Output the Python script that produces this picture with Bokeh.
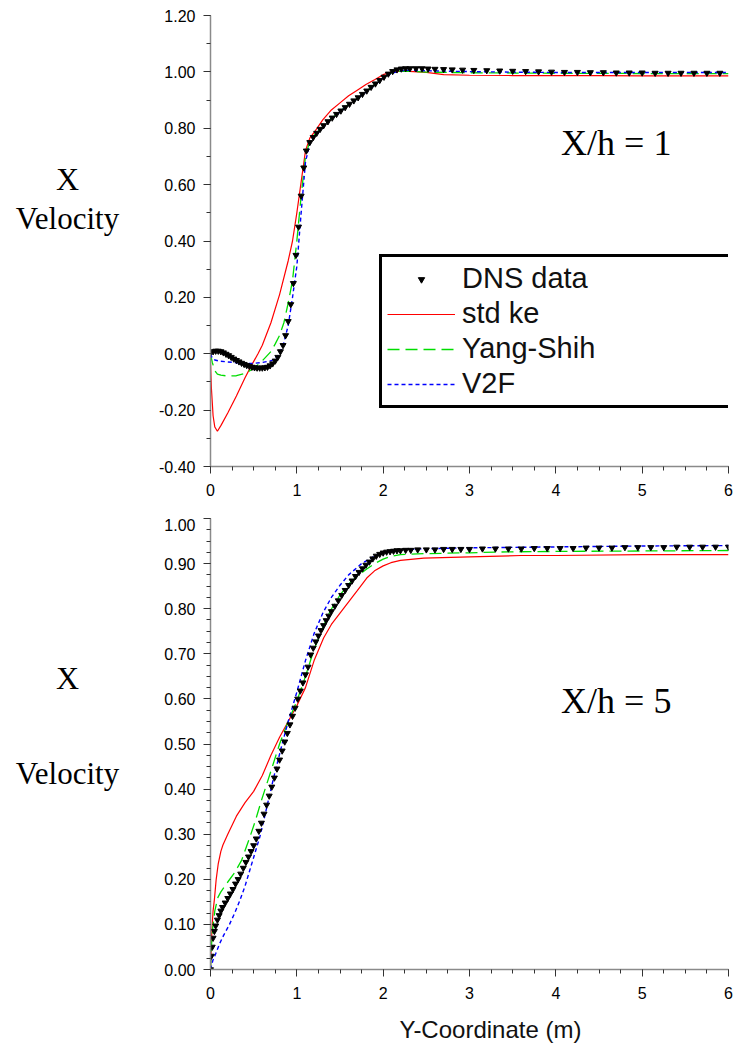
from bokeh.plotting import figure
from bokeh.models import (Range1d, FixedTicker, PrintfTickFormatter, Legend,
                          LegendItem, Label)
from bokeh.layouts import column, row
from bokeh.embed import file_html
from bokeh.resources import INLINE

# ---------------- data : X/h = 1 ----------------
dns1_x = [0.00, 0.03, 0.06, 0.09, 0.12, 0.15, 0.18, 0.21, 0.24, 0.27, 0.30, 0.33, 0.36, 0.39,
          0.42, 0.45, 0.48, 0.51, 0.54, 0.57, 0.60, 0.63, 0.66, 0.69, 0.72, 0.75, 0.78, 0.81,
          0.84, 0.87, 0.90, 0.93, 0.96, 0.99, 1.02, 1.05, 1.08, 1.11, 1.15, 1.19, 1.23, 1.27,
          1.31, 1.36, 1.41, 1.46, 1.51, 1.56, 1.61, 1.66, 1.71, 1.76, 1.81, 1.86, 1.91, 1.96,
          2.01, 2.06, 2.11, 2.16, 2.21, 2.26, 2.31, 2.38, 2.45, 2.52, 2.60, 2.70, 2.80, 2.92,
          3.05, 3.20, 3.35, 3.50, 3.65, 3.80, 3.95, 4.10, 4.25, 4.40, 4.55, 4.70, 4.85, 5.00,
          5.15, 5.30, 5.45, 5.60, 5.75, 5.90]
dns1_y = [0.005, 0.008, 0.010, 0.010, 0.008, 0.004, -0.001, -0.006, -0.012, -0.018, -0.023,
          -0.028, -0.033, -0.037, -0.041, -0.044, -0.047, -0.049, -0.050, -0.050, -0.050,
          -0.049, -0.047, -0.042, -0.035, -0.025, -0.012, 0.008, 0.030, 0.065, 0.115, 0.175,
          0.250, 0.350, 0.450, 0.560, 0.660, 0.720, 0.750, 0.768, 0.783, 0.797, 0.810, 0.824,
          0.837, 0.850, 0.862, 0.874, 0.886, 0.898, 0.909, 0.921, 0.933, 0.946, 0.958, 0.970,
          0.982, 0.993, 1.002, 1.008, 1.011, 1.012, 1.012, 1.012, 1.012, 1.011, 1.010, 1.009,
          1.008, 1.007, 1.006, 1.005, 1.004, 1.003, 1.002, 1.001, 1.000, 0.999, 0.999, 0.998,
          0.998, 0.997, 0.997, 0.997, 0.996, 0.996, 0.996, 0.996, 0.996, 0.996]

ke1_x = [0.00, 0.01, 0.03, 0.05, 0.08, 0.12, 0.20, 0.30, 0.40, 0.47, 0.55, 0.60, 0.70, 0.80,
         0.90, 0.95, 1.00, 1.05, 1.10, 1.15, 1.20, 1.30, 1.40, 1.50, 1.60, 1.70, 1.80, 1.90,
         2.00, 2.10, 2.20, 2.30, 2.50, 2.70, 3.00, 3.50, 4.00, 4.50, 5.00, 5.50, 6.00]
ke1_y = [-0.03, -0.12, -0.22, -0.26, -0.275, -0.255, -0.21, -0.15, -0.085, -0.044, 0.0, 0.03,
         0.11, 0.21, 0.33, 0.40, 0.50, 0.61, 0.72, 0.765, 0.785, 0.83, 0.865, 0.89, 0.915,
         0.935, 0.955, 0.972, 0.99, 1.0, 1.003, 1.002, 0.998, 0.99, 0.988, 0.987, 0.987,
         0.987, 0.986, 0.986, 0.986]

ys1_x = [0.00, 0.02, 0.05, 0.08, 0.12, 0.20, 0.30, 0.40, 0.50, 0.60, 0.70, 0.75, 0.80, 0.85,
         0.90, 0.95, 1.00, 1.05, 1.10, 1.15, 1.20, 1.30, 1.40, 1.50, 1.60, 1.70, 1.80, 1.90,
         2.00, 2.10, 2.20, 2.30, 2.50, 3.00, 3.50, 4.00, 4.50, 5.00, 5.50, 6.00]
ys1_y = [0.0, -0.03, -0.06, -0.072, -0.076, -0.079, -0.078, -0.07, -0.052, -0.025, 0.008,
         0.035, 0.065, 0.11, 0.18, 0.26, 0.40, 0.56, 0.70, 0.755, 0.775, 0.805, 0.835, 0.86,
         0.885, 0.905, 0.93, 0.955, 0.98, 0.997, 1.003, 1.002, 0.999, 0.997, 0.996, 0.995,
         0.995, 0.994, 0.994, 0.994]

v2f1_x = [0.00, 0.02, 0.05, 0.10, 0.20, 0.30, 0.40, 0.50, 0.60, 0.70, 0.75, 0.80, 0.85, 0.90,
          0.95, 1.00, 1.05, 1.10, 1.15, 1.20, 1.30, 1.40, 1.50, 1.60, 1.70, 1.80, 1.90, 2.00,
          2.10, 2.20, 2.30, 2.50, 3.00, 3.50, 4.00, 4.50, 5.00, 5.50, 6.00]
v2f1_y = [0.0, -0.015, -0.022, -0.026, -0.029, -0.032, -0.034, -0.034, -0.031, -0.025,
          -0.018, 0.0, 0.04, 0.10, 0.20, 0.31, 0.50, 0.68, 0.745, 0.77, 0.80, 0.832, 0.858,
          0.883, 0.905, 0.928, 0.952, 0.978, 0.995, 1.004, 1.006, 1.004, 1.001, 0.999, 0.998,
          0.998, 0.998, 0.998, 0.998]

# ---------------- data : X/h = 5 ----------------
dns5_x = [0.00, 0.01, 0.02, 0.03, 0.045, 0.06, 0.08, 0.10, 0.12, 0.14, 0.17, 0.20, 0.23, 0.26,
          0.29, 0.32, 0.35, 0.38, 0.41, 0.44, 0.47, 0.50, 0.53, 0.56, 0.59, 0.62, 0.65, 0.68,
          0.71, 0.74, 0.77, 0.80, 0.83, 0.86, 0.89, 0.92, 0.95, 0.98, 1.01, 1.04, 1.07, 1.10,
          1.13, 1.16, 1.19, 1.22, 1.25, 1.28, 1.31, 1.34, 1.37, 1.40, 1.44, 1.48, 1.52, 1.56,
          1.60, 1.64, 1.68, 1.72, 1.76, 1.80, 1.84, 1.88, 1.92, 1.96, 2.00, 2.04, 2.08, 2.12,
          2.16, 2.20, 2.26, 2.32, 2.40, 2.50, 2.60, 2.70, 2.80, 2.90, 3.00, 3.15, 3.30, 3.45,
          3.60, 3.75, 3.90, 4.05, 4.20, 4.35, 4.50, 4.65, 4.80, 4.95, 5.10, 5.25, 5.40, 5.55,
          5.70, 5.85, 6.00]
dns5_y = [0.0, 0.03, 0.05, 0.07, 0.085, 0.097, 0.11, 0.12, 0.13, 0.138, 0.148, 0.158, 0.168,
          0.178, 0.19, 0.20, 0.212, 0.225, 0.238, 0.25, 0.262, 0.275, 0.29, 0.307, 0.325,
          0.345, 0.365, 0.385, 0.405, 0.425, 0.445, 0.465, 0.485, 0.505, 0.524, 0.543, 0.562,
          0.58, 0.60, 0.618, 0.636, 0.654, 0.671, 0.698, 0.713, 0.727, 0.74, 0.752, 0.763,
          0.774, 0.784, 0.794, 0.806, 0.818, 0.83, 0.841, 0.852, 0.862, 0.872, 0.881, 0.889,
          0.897, 0.904, 0.911, 0.917, 0.921, 0.924, 0.926, 0.927, 0.928, 0.929, 0.929, 0.93,
          0.93, 0.931, 0.931, 0.931, 0.932, 0.932, 0.932, 0.932, 0.933, 0.933, 0.933, 0.933,
          0.934, 0.934, 0.934, 0.934, 0.935, 0.935, 0.935, 0.936, 0.936, 0.936, 0.936, 0.937,
          0.937, 0.937, 0.937, 0.937]

ke5_x = [0.00, 0.01, 0.02, 0.03, 0.045, 0.066, 0.09, 0.12, 0.144, 0.20, 0.30, 0.40, 0.50,
         0.60, 0.70, 0.80, 0.90, 1.00, 1.10, 1.20, 1.31, 1.40, 1.50, 1.60, 1.70, 1.81, 1.90,
         2.00, 2.09, 2.20, 2.47, 3.00, 3.60, 4.00, 5.00, 6.00]
ke5_y = [0.0, 0.06, 0.10, 0.13, 0.155, 0.20, 0.235, 0.262, 0.276, 0.30, 0.34, 0.37, 0.395,
         0.43, 0.475, 0.515, 0.55, 0.585, 0.625, 0.685, 0.735, 0.765, 0.79, 0.815, 0.84,
         0.868, 0.884, 0.895, 0.902, 0.907, 0.912, 0.915, 0.918, 0.918, 0.92, 0.92]

ys5_x = [0.00, 0.01, 0.027, 0.05, 0.086, 0.12, 0.20, 0.28, 0.36, 0.455, 0.52, 0.59, 0.70,
         0.80, 0.90, 1.00, 1.10, 1.20, 1.30, 1.39, 1.50, 1.60, 1.70, 1.81, 1.90, 2.00, 2.09,
         2.20, 2.47, 3.00, 3.44, 4.00, 5.00, 6.00]
ys5_y = [0.0, 0.05, 0.094, 0.13, 0.16, 0.172, 0.194, 0.215, 0.242, 0.293, 0.33, 0.375, 0.44,
         0.50, 0.55, 0.595, 0.65, 0.71, 0.758, 0.796, 0.83, 0.855, 0.872, 0.888, 0.90, 0.91,
         0.916, 0.92, 0.922, 0.924, 0.926, 0.927, 0.928, 0.929]

v2f5_x = [0.00, 0.027, 0.06, 0.105, 0.15, 0.22, 0.28, 0.34, 0.40, 0.455, 0.51, 0.57, 0.62,
          0.67, 0.75, 0.83, 0.90, 1.00, 1.10, 1.20, 1.30, 1.40, 1.50, 1.60, 1.75, 1.90, 2.00,
          2.10, 2.20, 2.50, 3.00, 4.00, 5.00, 6.00]
v2f5_y = [0.0, 0.02, 0.035, 0.057, 0.075, 0.10, 0.125, 0.153, 0.185, 0.22, 0.255, 0.293,
          0.333, 0.375, 0.44, 0.50, 0.55, 0.615, 0.685, 0.745, 0.79, 0.825, 0.852, 0.875,
          0.90, 0.917, 0.925, 0.929, 0.931, 0.933, 0.935, 0.937, 0.939, 0.94]

x_ticks = [0, 1, 2, 3, 4, 5, 6]
y_ticks_top = [-0.4, -0.2, 0.0, 0.2, 0.4, 0.6, 0.8, 1.0, 1.2]
y_ticks_bot = [0.0, 0.1, 0.2, 0.3, 0.4, 0.5, 0.6, 0.7, 0.8, 0.9, 1.0]
series_names = ["DNS data", "std ke", "Yang-Shih", "V2F"]
panel_titles = ["X/h = 1", "X/h = 5"]
x_title = "Y-Coordinate (m)"

SANS = "Liberation Sans"
SERIF = "Liberation Serif"
RED, GREEN, BLUE = "#ff0000", "#00dd00", "#0000ff"
LAB_W = 140          # width of the side strip holding the "X Velocity" label
TOP_H, BOT_H, FOOT_H = 518, 488, 40


def style_axes(p, yticks, yminor):
    p.xaxis.ticker = FixedTicker(ticks=x_ticks,
                                 minor_ticks=[i * 0.25 for i in range(25)])
    p.yaxis.ticker = FixedTicker(ticks=yticks, minor_ticks=yminor)
    p.xaxis.formatter = PrintfTickFormatter(format="%d")
    p.yaxis.formatter = PrintfTickFormatter(format="%.2f")
    for ax in (p.xaxis[0], p.yaxis[0]):
        ax.axis_line_color = "#8a8a8a"
        ax.axis_line_width = 1.5
        ax.major_tick_line_color = "#333333"
        ax.minor_tick_line_color = "#333333"
        ax.major_tick_out = 7
        ax.major_tick_in = 0
        ax.minor_tick_out = 4
        ax.minor_tick_in = 0
        ax.major_label_text_font = SANS
        ax.major_label_text_font_size = "16px"
        ax.major_label_text_color = "black"
    p.yaxis.major_label_standoff = 8
    p.xaxis.major_label_standoff = 10
    p.xgrid.visible = False
    p.ygrid.visible = False
    p.outline_line_color = None


def add_series(p, dx, dy, kx, ky, yx, yy, vx, vy):
    r_ke = p.line(kx, ky, line_color=RED, line_width=1.2)
    r_ys = p.line(yx, yy, line_color=GREEN, line_width=1.3, line_dash="12 6")
    r_v2 = p.line(vx, vy, line_color=BLUE, line_width=1.4, line_dash="4 3")
    r_dns = p.scatter(dx, dy, marker="inverted_triangle", size=6,
                      fill_color="black", line_color="black")
    return [r_dns, r_ke, r_ys, r_v2]


def blank_strip(w, h):
    # a blank strip whose data units are pixels (y measured from the top)
    s = figure(width=w, height=h, output_backend="svg", toolbar_location=None,
               title=None,
               x_range=Range1d(0, w), y_range=Range1d(h, 0),
               frame_width=w, frame_height=h,
               min_border=0, min_border_left=0, min_border_right=0,
               min_border_top=0, min_border_bottom=0)
    s.axis.visible = False
    s.xgrid.visible = False
    s.ygrid.visible = False
    s.outline_line_color = None
    return s


def label_strip(h, x_pos, y_pos_x, y_pos_v):
    s = blank_strip(LAB_W, h)
    s.add_layout(Label(x=x_pos, y=y_pos_x, text="X", text_font=SERIF,
                       text_font_size="32px", text_align="center",
                       text_baseline="middle", text_color="black"))
    s.add_layout(Label(x=x_pos, y=y_pos_v, text="Velocity", text_font=SERIF,
                       text_font_size="31px", text_align="center",
                       text_baseline="middle", text_color="black"))
    return s


# ---------------- top figure ----------------
p1 = figure(width=736 - LAB_W, height=TOP_H, output_backend="svg", toolbar_location=None,
            x_range=Range1d(0, 6), y_range=Range1d(-0.4, 1.2),
            frame_width=518, frame_height=451,
            min_border_left=210 - LAB_W, min_border_right=8, min_border_top=15,
            min_border_bottom=52)
style_axes(p1, y_ticks_top, [round(-0.4 + 0.1 * i, 2) for i in range(17)])
rs1 = add_series(p1, dns1_x, dns1_y, ke1_x, ke1_y, ys1_x, ys1_y, v2f1_x, v2f1_y)

legend = Legend(items=[LegendItem(label=n, renderers=[r]) for n, r in zip(series_names, rs1)],
                location=(169, 58))
legend.label_text_font = SANS
legend.label_text_font_size = "29px"
legend.label_text_color = "#111111"
legend.label_text_baseline = "middle"
legend.glyph_width = 68
legend.glyph_height = 16
legend.label_height = 30
legend.label_width = 300
legend.label_standoff = 7
legend.spacing = 2
legend.padding = 5
legend.margin = 0
legend.border_line_color = "black"
legend.border_line_alpha = 1.0
legend.border_line_width = 3
legend.background_fill_color = "white"
legend.background_fill_alpha = 1.0
p1.add_layout(legend, "center")

p1.add_layout(Label(x=4.70, y=0.746, text=panel_titles[0], text_font=SERIF,
                    text_font_size="36px", text_align="center", text_baseline="middle",
                    text_color="black"))

# ---------------- bottom figure ----------------
p2 = figure(width=736 - LAB_W, height=BOT_H, output_backend="svg", toolbar_location=None,
            x_range=Range1d(0, 6), y_range=Range1d(0, 1.0),
            frame_width=518, frame_height=451,
            min_border_left=210 - LAB_W, min_border_right=8, min_border_top=0,
            min_border_bottom=BOT_H - 451)
style_axes(p2, y_ticks_bot, [round(0.025 * i, 3) for i in range(41)])
add_series(p2, dns5_x, dns5_y, ke5_x, ke5_y, ys5_x, ys5_y, v2f5_x, v2f5_y)

p2.add_layout(Label(x=4.70, y=0.596, text=panel_titles[1], text_font=SERIF,
                    text_font_size="36px", text_align="center", text_baseline="middle",
                    text_color="black"))

s1 = label_strip(TOP_H, 67, 163, 203)
s2 = label_strip(BOT_H, 67, 159, 255)

foot = blank_strip(736, FOOT_H)
foot.add_layout(Label(x=490, y=23, text=x_title, text_font=SANS, text_font_size="24px",
                      text_align="center", text_baseline="middle", text_color="#111111"))

layout = column(row(s1, p1, spacing=0), row(s2, p2, spacing=0), foot, spacing=0)
open("out.html", "w").write(file_html(layout, INLINE))
